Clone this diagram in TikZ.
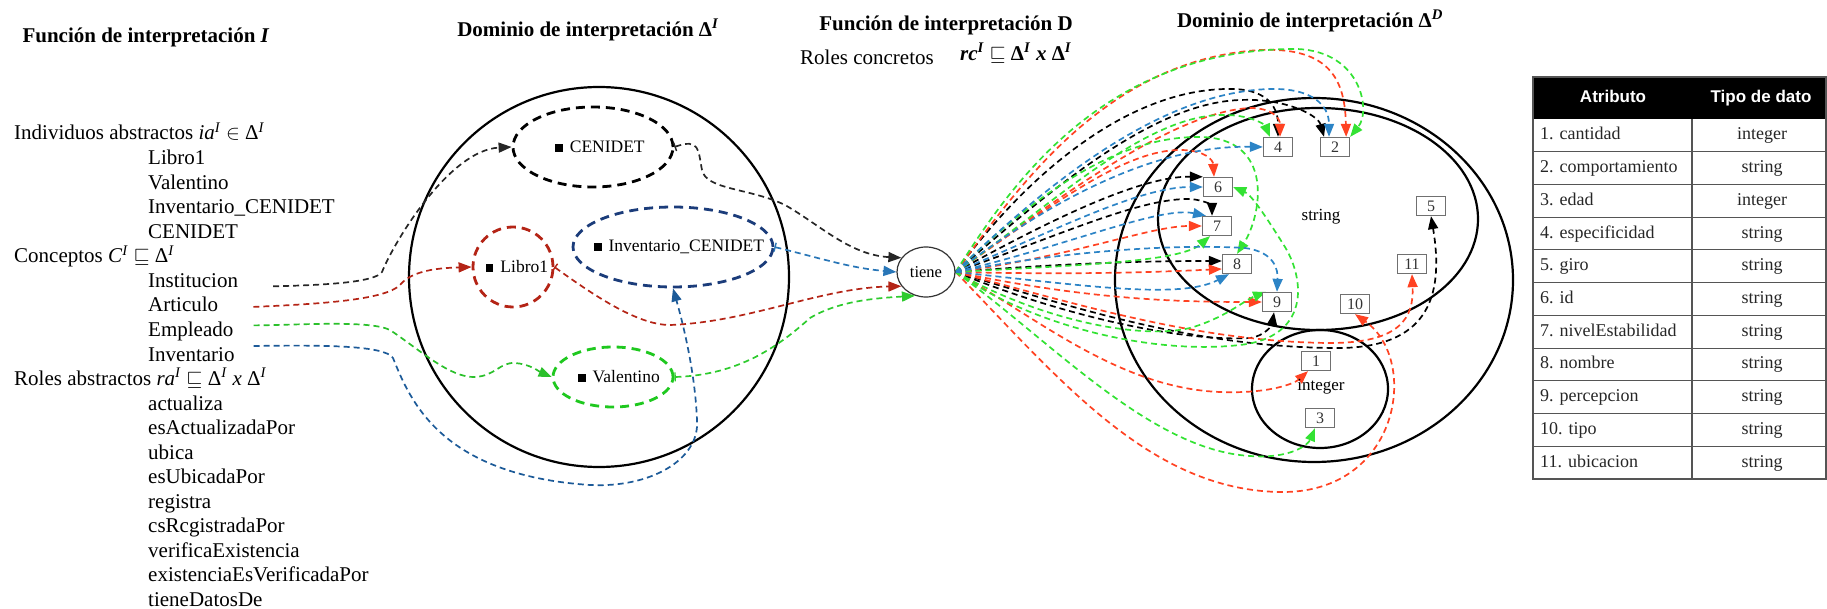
\documentclass[tikz,border=0pt]{standalone}
\usepackage{fontspec}
\setmainfont{Liberation Serif}
\newfontfamily\headsans{Liberation Sans}
\usetikzlibrary{arrows.meta,shapes.geometric,backgrounds}

\definecolor{darkred}{HTML}{B42416}
\definecolor{fanred}{HTML}{FF4222}
\definecolor{fangreen}{HTML}{33E233}
\definecolor{valgreen}{HTML}{1FC81F}
\definecolor{invblue}{HTML}{1C5A98}
\definecolor{fanblue}{HTML}{2C84C6}
\definecolor{navy}{HTML}{1B3C7A}
\definecolor{boxgray}{HTML}{707070}
\definecolor{gridgray}{HTML}{555555}

\begin{document}
\begin{tikzpicture}[x=1pt,y=-1pt,
  every node/.style={inner sep=0pt},
  ttl/.style={font=\fontsize{21}{24}\selectfont\bfseries},
  item/.style={anchor=west, text height=15pt, text depth=5pt, font=\fontsize{21}{24}\selectfont},
  indiv/.style={shape=ellipse, line width=2.8pt, dash pattern=on 9pt off 6pt, font=\fontsize{17.5}{20}\selectfont},
  link/.style={line width=1.7pt, dash pattern=on 6pt off 4pt, -{Triangle[length=13pt,width=10pt]}},
  tee/.style={{Bar[width=9pt,line width=1.4pt]}-{Triangle[length=13pt,width=10pt]}},
  dom/.style={line width=2.2pt},
  valbox/.style={draw=boxgray, fill=white, line width=1.3pt, minimum width=29pt, minimum height=19pt, font=\fontsize{16}{16}\selectfont, text=black!80},
  cell/.style={text height=13pt, text depth=4pt, font=\fontsize{18}{20}\selectfont, text=black!85},
  hcell/.style={text height=13pt, text depth=4pt, font=\headsans\bfseries\fontsize{17}{20}\selectfont, text=white}
]
\newcommand{\blk}{\raisebox{1pt}{\rule{7.5pt}{7.5pt}}\hspace{7pt}}
\useasboundingbox (0,0) rectangle (1827,609);

% ---------- titles ----------
\node[ttl] (t1) at (146,37) {Función de interpretación \textit{I}};
\node[ttl] (t2) at (588,30) {Dominio de interpretación Δ\textsuperscript{\textit{I}}};
\node[ttl] (t3) at (946,25) {Función de interpretación D};
\node[font=\fontsize{21}{24}\selectfont, anchor=west] (t4) at (800,57) {Roles concretos};
\node[font=\fontsize{21}{24}\selectfont\bfseries, anchor=west] (t5) at (960,53) {\textit{rc}\textsuperscript{\textit{I}} $\sqsubseteq$ Δ\textsuperscript{\textit{I}} \textit{x} Δ\textsuperscript{\textit{I}}};
\node[ttl] (t6) at (1310,21) {Dominio de interpretación Δ\textsuperscript{\textit{D}}};

% ---------- left list ----------
\node[item] (indab) at (14,135) {Individuos abstractos \textit{ia}\textsuperscript{\textit{I}} $\in$ Δ\textsuperscript{\textit{I}}};
\node[item] (iLibro) at (148,159.6) {Libro1};
\node[item] (iVal) at (148,184.1) {Valentino};
\node[item] (iInv) at (148,208.7) {Inventario\_CENIDET};
\node[item] (iCen) at (148,233.2) {CENIDET};
\node[item] (concep) at (14,257.8) {Conceptos \textit{C}\textsuperscript{\textit{I}} $\sqsubseteq$ Δ\textsuperscript{\textit{I}}};
\node[item] (cInst) at (148,282.3) {Institucion};
\node[item] (cArt) at (148,306.9) {Articulo};
\node[item] (cEmp) at (148,331.4) {Empleado};
\node[item] (cInv) at (148,356.0) {Inventario};
\node[item] (roles) at (14,380.5) {Roles abstractos \textit{ra}\textsuperscript{\textit{I}} $\sqsubseteq$ Δ\textsuperscript{\textit{I}} \textit{x} Δ\textsuperscript{\textit{I}}};
\foreach \r [count=\i] in {actualiza, esActualizadaPor, ubica, esUbicadaPor, registra, csRcgistradaPor, verificaExistencia, existenciaEsVerificadaPor, tieneDatosDe}
  \node[item] (r\i) at (148,{380.5+24.55*\i}) {\r};

% ---------- abstract domain ----------
\draw[dom] (599,277) circle [radius=190pt];
\node[indiv, draw=black, minimum width=160pt, minimum height=80pt] (cen) at (593,147) {\hspace{14pt}\blk CENIDET};
\node[indiv, shape=circle, draw=darkred, minimum size=80pt, inner sep=-4pt] (lib) at (513,267) {\hspace{8pt}\blk Libro1};
\node[indiv, draw=navy, minimum width=200pt, minimum height=80pt, inner xsep=-22pt] (inv) at (673,247) {\hspace{12pt}\blk Inventario\_CENIDET};
\node[indiv, draw=valgreen, minimum width=120pt, minimum height=60pt, inner xsep=-8pt] (val) at (613,377) {\hspace{12pt}\blk Valentino};

\node[shape=ellipse, draw=black!80, line width=1.2pt, minimum width=58pt, minimum height=50pt, font=\fontsize{16.5}{18}\selectfont] (tiene) at (926,272) {tiene};

% concepts to individuals
\draw[link, black!85] ([xshift=35pt,yshift=-4pt]cInst.east) .. controls (330,285) and (375,282) .. (382,272) .. controls (395,240) and (450,150) .. (cen.west);
\draw[link, darkred] ([xshift=35pt]cArt.east) .. controls (320,304) and (385,300) .. (400,285) .. controls (412,270) and (440,268) .. (lib.west);
\draw[link, fangreen!85!black] ([xshift=20pt,yshift=6pt]cEmp.east) .. controls (300,325) and (370,320) .. (390,330) .. controls (420,350) and (450,378) .. (475,377) .. controls (495,376) and (500,362) .. (515,363) .. controls (530,364) and (540,372) .. (val.west);
\draw[link, invblue] ([xshift=19pt,yshift=10pt]cInv.east) .. controls (320,345) and (385,345) .. (393,358) .. controls (410,400) and (440,475) .. (590,485) .. controls (650,488) and (700,460) .. (697,420) .. controls (695,370) and (682,320) .. (inv.south);

% individuals to the concrete role
\draw[link, tee, black!85] (cen.east) .. controls (700,138) and (698,150) .. (702,170) .. controls (706,190) and (750,188) .. (785,205) .. controls (820,225) and (850,255) .. (tiene.150);
\draw[link, tee, fanblue!80!navy] (inv.east) .. controls (820,258) and (850,268) .. (tiene.west);
\draw[link, tee, darkred] (lib.east) .. controls (600,300) and (640,325) .. (670,325) .. controls (750,322) and (820,288) .. (tiene.210);
\draw[link, tee, fangreen!90!black] (val.east) .. controls (740,375) and (780,345) .. (810,318) .. controls (840,300) and (880,298) .. (tiene.245);

% ---------- concrete domain ----------
\node[font=\fontsize{17}{18}\selectfont] (lstr) at (1321,217) {string};
\node[font=\fontsize{17}{18}\selectfont] (lint) at (1321,387) {integer};
\node[valbox] (b1) at (1316,361) {1};
\node[valbox] (b2) at (1335,147) {2};
\node[valbox] (b3) at (1320,418) {3};
\node[valbox] (b4) at (1278,147) {4};
\node[valbox] (b5) at (1431,206) {5};
\node[valbox] (b6) at (1218,187) {6};
\node[valbox] (b7) at (1217,226) {7};
\node[valbox] (b8) at (1237,264) {8};
\node[valbox] (b9) at (1277,302) {9};
\node[valbox] (b10) at (1355,304) {10};
\node[valbox] (b11) at (1412,264) {11};

\begin{scope}[on background layer]
  \draw[dom] (1314,280) ellipse [x radius=199pt, y radius=182pt];
  \draw[dom] (1318,219) ellipse [x radius=160pt, y radius=111pt];
  \draw[dom] (1320,389) ellipse [x radius=68pt, y radius=59pt];

  % black
  \draw[link, black] (tiene.east) .. controls (1030,170) and (1130,90) .. (1227,89) .. controls (1265,88) and (1278,105) .. (b4.north);
  \draw[link, black] (tiene.east) .. controls (1045,195) and (1150,103) .. (1240,100) .. controls (1285,98) and (1318,115) .. ([xshift=-11pt]b2.north);
  \draw[link, black] (tiene.east) .. controls (1050,220) and (1140,176) .. (b6.north west);
  \draw[link, black] (tiene.east) .. controls (1060,235) and (1140,198) .. (1190,199) .. controls (1205,200) and (1212,206) .. ([xshift=-5pt]b7.north);
  \draw[link, black] (tiene.east) .. controls (1080,262) and (1160,261) .. ([yshift=3pt]b8.west);
  \draw[link, black] (tiene.east) .. controls (1060,315) and (1180,342) .. (1250,338) .. controls (1265,336) and (1272,325) .. ([xshift=-3pt]b9.south);
  \draw[link, black] (tiene.east) .. controls (1080,310) and (1200,348) .. (1340,348) .. controls (1425,347) and (1445,300) .. (b5.south);
  % red
  \draw[link, fanred] (tiene.east) .. controls (1010,200) and (1100,60) .. (1260,50) .. controls (1330,47) and (1345,80) .. ([xshift=-4pt]b2.north east);
  \draw[link, fanred] (tiene.east) .. controls (1050,205) and (1170,112) .. (1250,108) .. controls (1272,108) and (1280,118) .. ([xshift=2pt]b4.north);
  \draw[link, fanred] (tiene.east) .. controls (1040,215) and (1120,150) .. (1180,150) .. controls (1205,150) and (1213,160) .. ([xshift=-4pt]b6.north);
  \draw[link, fanred] (tiene.east) .. controls (1080,255) and (1150,226) .. (b7.west);
  \draw[link, fanred] (tiene.east) .. controls (1080,275) and (1160,272) .. ([yshift=-5pt]b8.west);
  \draw[link, fanred] (tiene.east) .. controls (1090,300) and (1180,302) .. (b9.west);
  \draw[link, fanred] (tiene.east) .. controls (1040,320) and (1120,388) .. (1220,392) .. controls (1270,394) and (1295,383) .. ([xshift=-8pt]b1.south);
  \draw[link, fanred] (tiene.east) .. controls (1060,380) and (1150,490) .. (1280,492) .. controls (1400,494) and (1420,360) .. (b10.south);
  \draw[link, fanred] (tiene.east) .. controls (1080,305) and (1200,342) .. (1330,343) .. controls (1400,343) and (1414,318) .. (b11.south);
  % green
  \draw[link, fangreen] (tiene.east) .. controls (1005,195) and (1095,52) .. (1290,49) .. controls (1360,47) and (1372,110) .. (b2.north east);
  \draw[link, fangreen] (tiene.east) .. controls (1040,215) and (1140,117) .. (1220,115) .. controls (1250,114) and (1265,125) .. ([xshift=-8pt]b4.north);
  \draw[link, fangreen] (tiene.east) .. controls (1080,265) and (1180,262) .. ([xshift=-7pt]b7.south);
  \draw[link, fangreen] (tiene.east) .. controls (1040,190) and (1120,136) .. (1200,137) .. controls (1275,138) and (1262,215) .. (b8.north);
  \draw[link, fangreen] (tiene.east) .. controls (1040,320) and (1140,340) .. (1190,328) .. controls (1225,318) and (1245,300) .. ([xshift=-11pt]b9.north);
  \draw[link, fangreen] (tiene.east) .. controls (1030,325) and (1150,355) .. (1240,345) .. controls (1310,337) and (1305,280) .. (1285,247) .. controls (1268,220) and (1252,195) .. (b6.east);
  \draw[link, fangreen] (tiene.east) .. controls (1050,340) and (1150,450) .. (1250,456) .. controls (1290,459) and (1308,445) .. ([xshift=-5pt]b3.south);
  % blue
  \draw[link, fanblue] (tiene.east) .. controls (1045,185) and (1160,92) .. (1270,89) .. controls (1312,88) and (1329,105) .. ([xshift=-6pt]b2.north);
  \draw[link, fanblue] (tiene.east) .. controls (1045,205) and (1150,145) .. (b4.west);
  \draw[link, fanblue] (tiene.east) .. controls (1060,228) and (1140,187) .. (b6.west);
  \draw[link, fanblue] (tiene.east) .. controls (1070,245) and (1160,206) .. ([xshift=-11pt]b7.north);
  \draw[link, fanblue] (tiene.east) .. controls (1080,285) and (1180,300) .. ([xshift=-8pt]b8.south);
  \draw[link, fanblue] (tiene.east) .. controls (1070,250) and (1180,244) .. (1245,248) .. controls (1275,252) and (1278,270) .. (b9.north);
\end{scope}

% ---------- attribute table ----------
\fill[black] (1533,77) rectangle (1826,119);
\node[hcell] (hatr) at (1613,98) {Atributo};
\node[hcell] (htipo) at (1761,98) {Tipo de dato};
\foreach \a/\t [count=\i] in {1. cantidad/integer, 2. comportamiento/string, 3. edad/integer, 4. especificidad/string, 5. giro/string, 6. id/string, 7. nivelEstabilidad/string, 8. nombre/string, 9. percepcion/string, 10. tipo/string, 11. ubicacion/string} {
  \node[cell, anchor=west] (a\i) at (1540,{119+32.73*(\i-0.5)}) {\a};
  \node[cell] (d\i) at (1762,{119+32.73*(\i-0.5)}) {\t};
}
\foreach \i in {1,...,10}
  \draw[gridgray, line width=1.1pt] (1533,{119+32.73*\i}) -- (1826,{119+32.73*\i});
\draw[gridgray, line width=1.1pt] (1692,119) -- (1692,479);
\draw[gridgray, line width=1.2pt] (1533,77) rectangle (1826,479);
\end{tikzpicture}
\end{document}
